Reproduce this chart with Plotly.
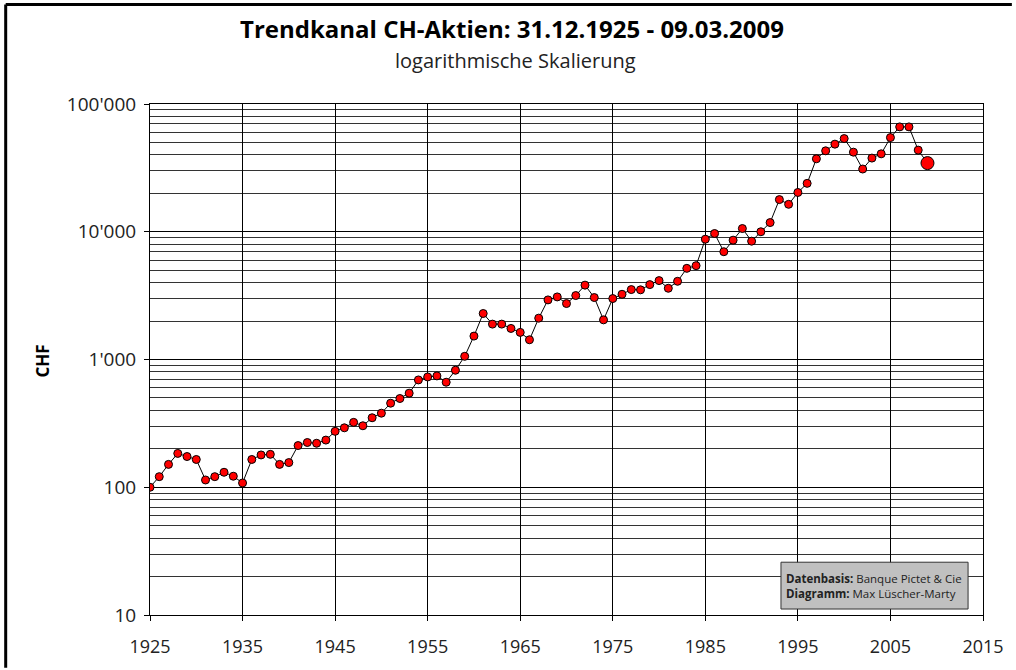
import plotly.graph_objects as go

years = list(range(1925, 2009))
values = [
    100, 121, 151, 184, 174, 165, 114, 121, 131, 122,
    108, 165, 179, 181, 151, 156, 212, 224, 221, 234,
    274, 292, 322, 303, 350, 380, 455, 495, 545, 692,
    730, 744, 664, 824, 1059, 1525, 2291, 1892, 1892, 1750,
    1630, 1427, 2107, 2928, 3090, 2742, 3167, 3820, 3055, 2043,
    3000, 3240, 3527, 3510, 3857, 4145, 3610, 4094, 5170, 5426,
    8750, 9690, 6977, 8594, 10600, 8440, 10000, 11800, 17850, 16400,
    20300, 23920, 37250, 43000, 48500, 53630, 41980, 30970, 37720, 40740,
    54580, 66190, 66190, 43550,
]
last_year = [2009]
last_value = [34480]

y_tickvals = [10, 100, 1000, 10000, 100000]
y_ticktext = ["10", "100", "1'000", "10'000", "100'000"]
x_tickvals = list(range(1925, 2016, 10))
minor_vals = [m * 10 ** e for e in range(1, 5) for m in range(2, 10)]

FONT = "Open Sans"

fig = go.Figure()
fig.add_trace(go.Scatter(
    x=years + last_year, y=values + last_value, mode="lines",
    line=dict(color="black", width=1), hoverinfo="skip", showlegend=False,
))
fig.add_trace(go.Scatter(
    x=years, y=values, mode="markers",
    marker=dict(color="#ff0000", size=8, line=dict(color="black", width=1)),
    showlegend=False,
))
fig.add_trace(go.Scatter(
    x=last_year, y=last_value, mode="markers",
    marker=dict(color="#ff0000", size=13, line=dict(color="black", width=1)),
    showlegend=False,
))

fig.update_layout(
    width=1016, height=670,
    margin=dict(l=150, r=29, t=104, b=53),
    paper_bgcolor="white", plot_bgcolor="white",
    font=dict(family=FONT, color="#222222", size=18),
    xaxis=dict(
        range=[1925, 2015], tickmode="array", tickvals=x_tickvals,
        showgrid=True, gridcolor="black", gridwidth=1,
        showline=True, linecolor="black", linewidth=1, mirror=True,
        ticks="outside", ticklen=5, tickcolor="black",
        ticklabelstandoff=10,
        tickfont=dict(size=18, family=FONT, color="#222222"),
        zeroline=False,
    ),
    yaxis=dict(
        type="log", range=[1, 5], tickmode="array",
        tickvals=y_tickvals, ticktext=y_ticktext,
        showgrid=True, gridcolor="black", gridwidth=1,
        showline=True, linecolor="black", linewidth=1, mirror=True,
        ticks="outside", ticklen=5, tickcolor="black",
        ticklabelstandoff=4,
        tickfont=dict(size=19, family=FONT, color="#222222"),
        minor=dict(tickmode="array", tickvals=minor_vals, showgrid=True,
                   gridcolor="#333333", gridwidth=1, ticks=""),
        zeroline=False,
    ),
)

W, H = 837.0, 513.0
def px(x):
    return (x - 150) / W
def py(y):
    return (617 - y) / H

fig.add_annotation(
    text="<b>Trendkanal CH-Aktien: 31.12.1925 - 09.03.2009</b>",
    xref="paper", yref="paper", x=px(514), y=py(28),
    xanchor="center", yanchor="middle", showarrow=False,
    font=dict(size=24, family=FONT, color="black"),
)
fig.add_annotation(
    text="logarithmische Skalierung",
    xref="paper", yref="paper", x=px(517), y=py(60),
    xanchor="center", yanchor="middle", showarrow=False,
    font=dict(size=20, family=FONT, color="#222222"),
)
fig.add_annotation(
    text="<b>CHF</b>", textangle=-90,
    xref="paper", yref="paper", x=px(42), y=py(362),
    xanchor="center", yanchor="middle", showarrow=False,
    font=dict(size=17, family=FONT, color="black"),
)

# source box
fig.add_shape(type="rect", xref="paper", yref="paper",
              x0=px(784), x1=px(972), y0=py(611), y1=py(564),
              fillcolor="#c0c0c0", line=dict(color="#333333", width=1), layer="above")
fig.add_annotation(
    text="<b>Datenbasis:</b> Banque Pictet & Cie<br><b>Diagramm:</b> Max Lüscher-Marty",
    xref="paper", yref="paper", x=px(787), y=py(587.5),
    xanchor="left", yanchor="middle", align="left", showarrow=False,
    font=dict(size=11.5, family=FONT, color="#222222"),
)

# outer frame (top and left visible)
fig.add_shape(type="line", xref="paper", yref="paper",
              x0=px(5), x1=px(1016), y0=py(4), y1=py(4),
              line=dict(color="black", width=3))
fig.add_shape(type="line", xref="paper", yref="paper",
              x0=px(5), x1=px(5), y0=py(4), y1=py(670),
              line=dict(color="black", width=3))

fig.write_html(
    "out.html",
    config={"displayModeBar": False},
    post_script="document.body.style.margin='0';document.body.style.overflow='hidden';",
)
